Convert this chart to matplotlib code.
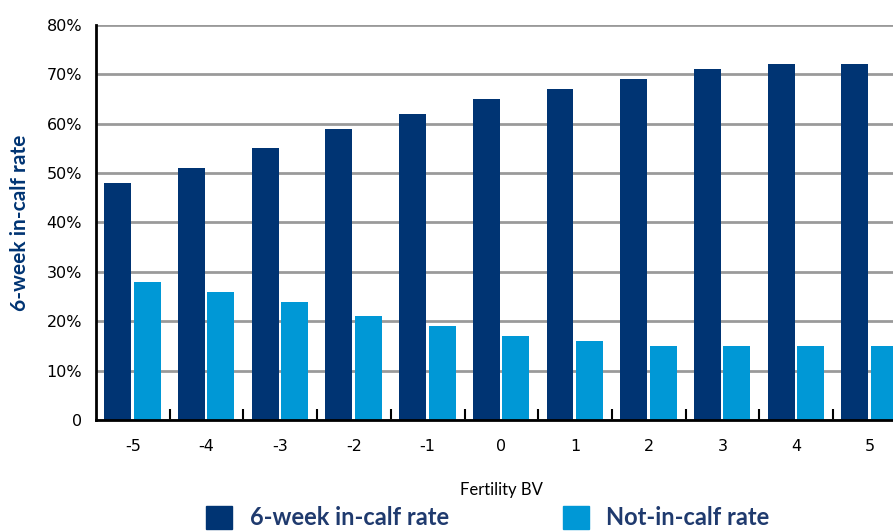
import numpy as np
import matplotlib
matplotlib.use('Agg')
import matplotlib.pyplot as plt
from matplotlib.patches import Patch

# Fertility breeding value vs herd reproductive outcomes
fertility_bv = ['-5', '-4', '-3', '-2', '-1', '0', '1', '2', '3', '4', '5']
in_calf_rate = [48, 51, 55, 59, 62, 65, 67, 69, 71, 72, 72]
not_in_calf_rate = [28, 26, 24, 21, 19, 17, 16, 15, 15, 15, 15]
y_ticks = [0, 10, 20, 30, 40, 50, 60, 70, 80]
y_tick_labels = ['0', '10%', '20%', '30%', '40%', '50%', '60%', '70%', '80%']

dark_blue = '#003473'
light_blue = '#0098d6'

fig = plt.figure(figsize=(8.93, 5.31), dpi=100)
ax = fig.add_axes([0.1075, 0.209, 0.908, 0.744])

x = np.arange(len(fertility_bv))
width = 0.365
ax.bar(x - 0.205, in_calf_rate, width, color=dark_blue, zorder=3)
ax.bar(x + 0.195, not_in_calf_rate, width, color=light_blue, zorder=3)

ax.set_xlim(-0.5, len(fertility_bv) - 0.5)
ax.set_ylim(0, 80)

ax.set_yticks(y_ticks)
ax.set_yticklabels(y_tick_labels, fontsize=11.5, family='DejaVu Sans')
ax.tick_params(axis='y', length=0, pad=10)
ax.grid(axis='y', color='#9a9a9a', linewidth=2, zorder=0)

ax.set_xticks(x)
ax.set_xticklabels(fertility_bv, fontsize=11.5, family='DejaVu Sans')
ax.tick_params(axis='x', which='major', length=0, pad=14)
ax.set_xticks(np.arange(0.5, len(fertility_bv) - 0.5), minor=True)
ax.tick_params(axis='x', which='minor', direction='in', length=8, width=1.5, color='black')

for side in ['top', 'right']:
    ax.spines[side].set_visible(False)
for side in ['left', 'bottom']:
    ax.spines[side].set_linewidth(2)
    ax.spines[side].set_color('black')
    ax.spines[side].set_zorder(4)

ax.set_ylabel('6-week in-calf rate', fontsize=15, fontweight='bold',
              color=dark_blue, family='Lato', labelpad=12)
ax.set_xlabel('Fertility BV', fontsize=12, family='Lato', labelpad=20)

handles = [Patch(color=dark_blue, label='6-week in-calf rate'),
           Patch(color=light_blue, label='Not-in-calf rate')]
leg = fig.legend(handles=handles, loc='center', bbox_to_anchor=(0.5465, 0.025),
                 ncol=2, frameon=False, handlelength=1.1, handleheight=1.1,
                 handletextpad=0.75, columnspacing=4.8,
                 prop={'family': 'Lato', 'weight': 'bold', 'size': 17})
for t in leg.get_texts():
    t.set_color('#1f3a6e')

fig.savefig('out.png', dpi=100)
